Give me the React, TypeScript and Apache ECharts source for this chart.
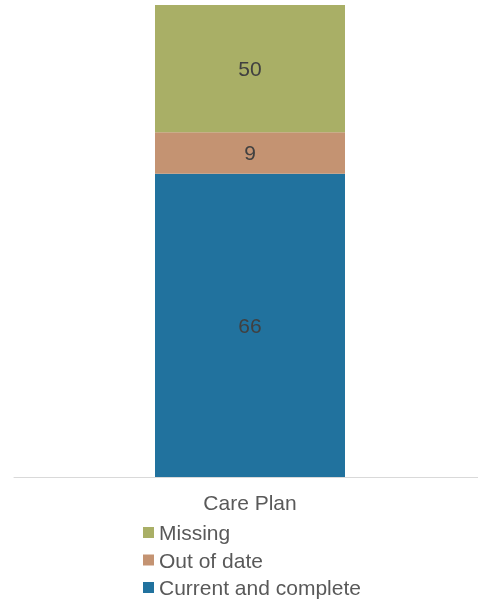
import React, { useEffect, useRef } from "react";
import * as echarts from "echarts";

const categories = ["Care Plan"];
const seriesNames = ["Current and complete", "Out of date", "Missing"];
const currentValues = [66];
const outOfDateValues = [9];
const missingValues = [50];
const legendOrder = ["Missing", "Out of date", "Current and complete"];

const FONT = "'Liberation Sans', Arial, sans-serif";

export default function App() {
  const ref = useRef<HTMLDivElement>(null);
  useEffect(() => {
    if (!ref.current) return;
    const chart = echarts.init(ref.current, undefined, { renderer: "svg" });
    const colors = ["#21729E", "#C49372", "#A9AF66"];
    const dataSets = [currentValues, outOfDateValues, missingValues];
    chart.setOption({
      animation: false,
      textStyle: { fontFamily: FONT },
      grid: { left: 14, right: 0, top: 5, bottom: 128, containLabel: false },
      xAxis: {
        type: "category",
        data: categories,
        axisLine: { show: true, lineStyle: { color: "#D9D9D9", width: 1 } },
        axisTick: { show: false },
        axisLabel: { color: "#595959", fontSize: 21, fontFamily: FONT, margin: 15 },
      },
      yAxis: {
        type: "value",
        min: 0,
        max: 102.7,
        show: false,
        splitLine: { show: false },
      },
      legend: {
        orient: "vertical",
        left: 143,
        top: 522,
        data: legendOrder,
        icon: "rect",
        itemWidth: 11,
        itemHeight: 11,
        itemGap: 6.5,
        textStyle: { color: "#595959", fontSize: 21, fontFamily: FONT },
        padding: 0,
      },
      series: seriesNames.map((name, i) => ({
        name,
        type: "bar",
        stack: "total",
        barWidth: 190,
        clip: true,
        data: dataSets[i],
        itemStyle: { color: colors[i] },
        label: {
          show: true,
          position: "inside",
          color: "#404040",
          fontSize: 21,
          fontFamily: FONT,
        },
      })),
    });
    return () => chart.dispose();
  }, []);
  return (
    <div style={{ position: "fixed", left: 0, top: 0, width: 478, height: 605, overflow: "hidden" }}>
      <div ref={ref} style={{ width: 486, height: 605 }} />
    </div>
  );
}
